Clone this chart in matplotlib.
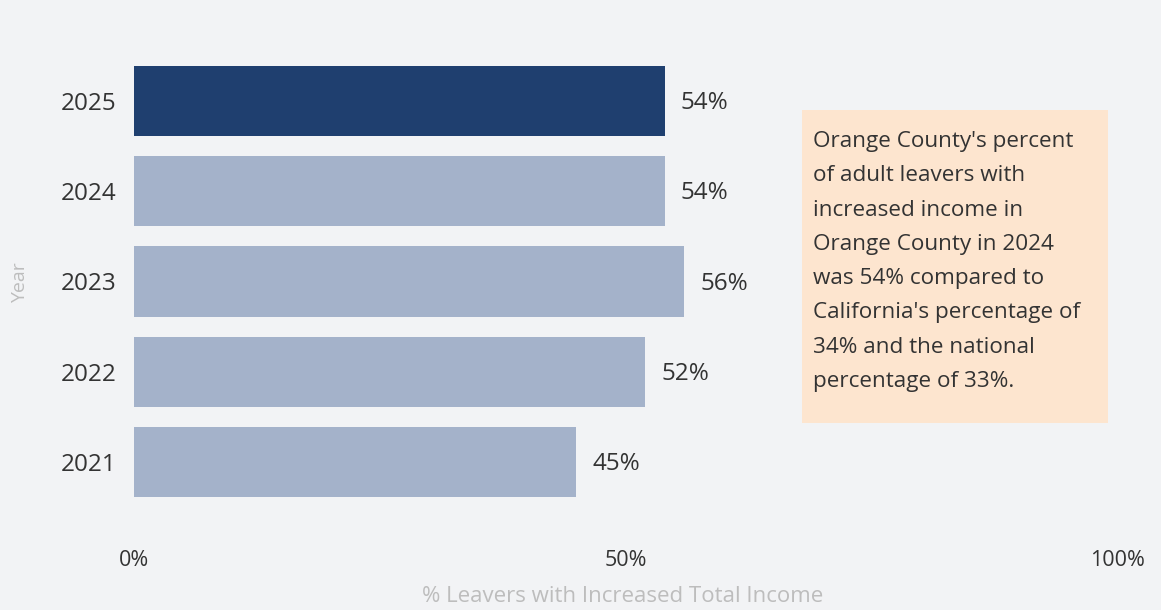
import matplotlib
matplotlib.use("Agg")
import matplotlib.pyplot as plt
from matplotlib.patches import Rectangle
from matplotlib.ticker import PercentFormatter

years = ["2021", "2022", "2023", "2024", "2025"]
pct_increased = [45, 52, 56, 54, 54]
value_labels = ["45%", "52%", "56%", "54%", "54%"]
xticks = [0, 50, 100]

note = ("Orange County's percent\n"
        "of adult leavers with\n"
        "increased income in\n"
        "Orange County in 2024\n"
        "was 54% compared to\n"
        "California's percentage of\n"
        "34% and the national\n"
        "percentage of 33%.")

bg = "#F2F3F5"
dark = "#1F3F6F"
light = "#A4B2CA"
txt = "#333333"
faint = "#BDBDBD"

plt.rcParams['font.family'] = ['Open Sans', 'DejaVu Sans']

W, H = 1161, 610
fig = plt.figure(figsize=(W / 100, H / 100), dpi=100, facecolor=bg)
ax = fig.add_axes([134 / W, (H - 507) / H, (1117 - 134) / W, 451 / H])
ax.set_facecolor(bg)

colors = [light] * (len(years) - 1) + [dark]
bars = ax.barh(years, pct_increased, height=0.78, color=colors)
ax.set_ylim(-0.5, len(years) - 0.5)
ax.set_xlim(0, 100)

for b, lab in zip(bars, value_labels):
    ax.annotate(lab, (b.get_width(), b.get_y() + b.get_height() / 2),
                xytext=(16, -2), textcoords="offset pixels",
                va="center", ha="left", fontsize=17.5, color=txt)

for s in ax.spines.values():
    s.set_visible(False)
ax.tick_params(length=0)
ax.set_xticks(xticks)
ax.xaxis.set_major_formatter(PercentFormatter(decimals=0))
for lab in ax.get_yticklabels():
    lab.set_fontsize(17.5)
    lab.set_color(txt)
for lab in ax.get_xticklabels():
    lab.set_fontsize(15.5)
    lab.set_color(txt)
ax.tick_params(axis="y", pad=12.5)
ax.tick_params(axis="x", pad=31)

fig.text(623 / W, 1 - 597 / H, "% Leavers with Increased Total Income",
         ha="center", va="center", fontsize=16, color=faint)
fig.text(20 / W, 1 - 283 / H, "Year", rotation=90,
         ha="center", va="center", fontsize=14, color=faint)

# annotation box to the right of the bars
fig.patches.append(Rectangle((802 / W, 1 - 423 / H), 306 / W, 313 / H,
                             transform=fig.transFigure, facecolor="#FDE5CF",
                             edgecolor="none", zorder=0))
fig.text(813 / W, 1 - 131 / H, note, ha="left", va="top",
         fontsize=16.2, color=txt, linespacing=1.83)

fig.savefig("out.png", dpi=100, facecolor=bg)
